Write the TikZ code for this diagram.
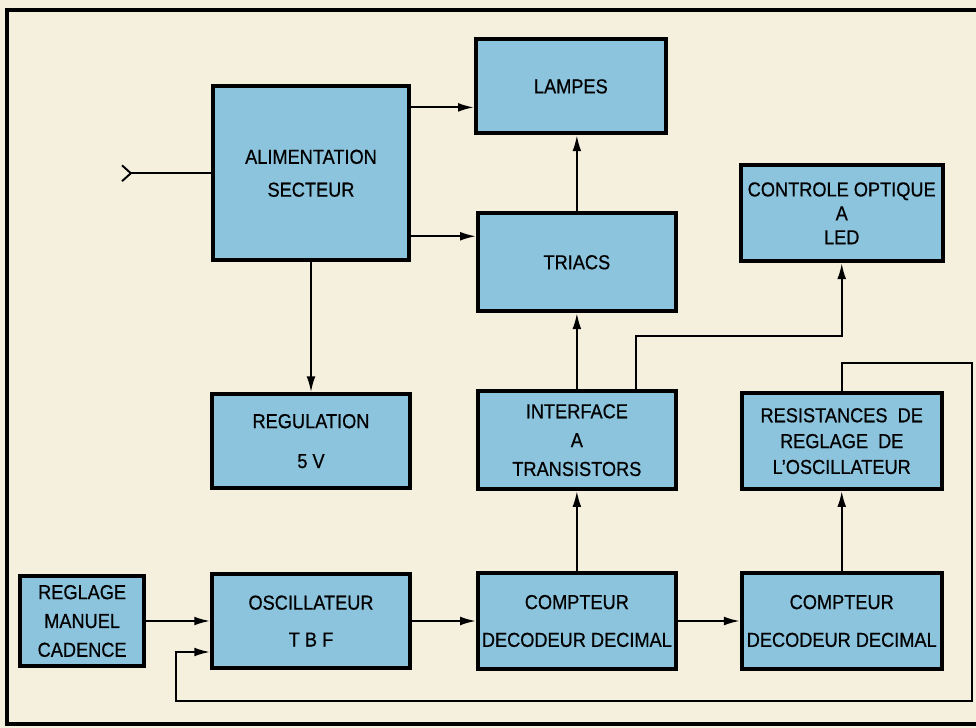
\documentclass[tikz,border=0pt]{standalone}
\usepackage{fontspec}
\setmainfont{Liberation Sans}[FakeStretch=0.9, FakeBold=0.6]
\usepackage{xcolor}
\usetikzlibrary{arrows.meta, positioning}

\definecolor{paper}{RGB}{245,239,222}
\definecolor{boxblue}{RGB}{140,196,222}

\begin{document}
\begin{tikzpicture}[
    node distance=1.64cm and 1.28cm,
    box/.style={draw, rectangle, line width=2.2pt, fill=boxblue, minimum width=3.96cm, minimum height=1.92cm, inner xsep=1pt, align=center, font=\fontsize{11.5}{14}\selectfont},
    arrow/.style={-{Latex[length=9pt,width=5pt]}, line width=1.1pt},
    wire/.style={line width=1.1pt},
    frame/.style={line width=2pt}
]
\useasboundingbox (0,0) rectangle (19.52,-14.56);
\fill[paper] (0,0) rectangle (19.52,-14.56);
\draw[frame] (19.52,-0.2) -- (0.14,-0.2) -- (0.14,-14.48) -- (19.52,-14.48);

% Bottom row
\node[box, minimum height=1.88cm] (oscil) at (6.22,-12.42) {OSCILLATEUR \\[7pt] T B F};
\node[box, left=of oscil, minimum width=2.48cm, minimum height=1.8cm] (reglage) {REGLAGE \\[2.4pt] MANUEL \\[2.4pt] CADENCE};
\node[box, right=of oscil] (compt1) {COMPTEUR \\[7.5pt] DECODEUR DECIMAL};
\node[box, right=1.24cm of compt1, minimum width=4.0cm] (compt2) {COMPTEUR \\[7.5pt] DECODEUR DECIMAL};

% Middle row
\node[box, above=of oscil, minimum height=1.88cm] (regul) {REGULATION \\[8.7pt] 5 V};
\node[box, above=1.6cm of compt1, minimum height=1.96cm] (interf) {INTERFACE \\[2.4pt] A \\[2.4pt] TRANSISTORS};
\node[box, above=1.6cm of compt2, minimum width=4.0cm] (resist) {RESISTANCES\ \ DE \\[0.7pt] REGLAGE\ \ DE \\[0.7pt] L'OSCILLATEUR};

% Top part
\node[box, above=2.6cm of regul, minimum width=3.92cm, minimum height=3.48cm] (alim) {ALIMENTATION \\[4.7pt] SECTEUR};
\node[box, above=1.52cm of interf, minimum height=1.96cm] (triacs) {TRIACS};
\node[box, above=1.52cm of triacs, xshift=-0.12cm, minimum width=3.8cm, minimum height=1.88cm] (lampes) {LAMPES};
\node[box, above=2.56cm of resist, minimum width=4.04cm] (controle) {CONTROLE OPTIQUE \\[-0.4pt] A \\[-0.4pt] LED};

% Connectors
\coordinate (mains) at ([xshift=-1.8cm]alim.west);
\coordinate (lampin) at ([yshift=-0.42cm]lampes.west);
\coordinate (triin) at ([yshift=0.52cm]triacs.west);
\coordinate (fbin) at ([yshift=-0.62cm]oscil.west);
\coordinate (fbbot) at ([xshift=-0.68cm,yshift=-1.6cm]oscil.west);

\draw[wire, {Straight Barb[reversed, length=5pt, width=9pt]}-] (mains) -- (alim.west);
\draw[arrow] (alim.east |- lampin) -- (lampin);
\draw[arrow] (alim.east |- triin) -- (triin);
\draw[arrow] (alim.south) -- (regul.north);
\draw[arrow] (triacs.north) -- (triacs.north |- lampes.south);
\draw[arrow] (interf.north) -- (triacs.south);
\draw[arrow] (compt1.north) -- (interf.south);
\draw[arrow] (compt2.north) -- (resist.south);
\draw[arrow] ([xshift=1.18cm]interf.north) -- ++(0,1.06) -| (controle.south);
\draw[arrow] (reglage.east) -- (reglage.east -| oscil.west);
\draw[arrow] (oscil.east) -- (compt1.west);
\draw[arrow] (compt1.east) -- (compt1.east -| compt2.west);
\draw[arrow] (resist.north) -- ++(0,0.56) -- ++(2.6,0) |- (fbbot) |- (fbin);
\end{tikzpicture}
\end{document}
